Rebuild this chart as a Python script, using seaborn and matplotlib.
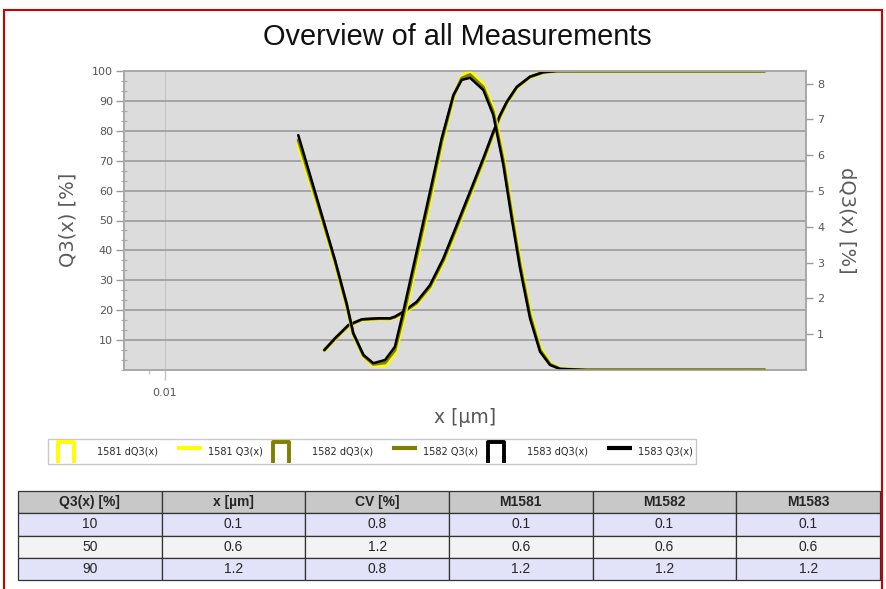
import matplotlib
matplotlib.use("Agg")
import matplotlib.pyplot as plt
import seaborn as sns
import pandas as pd
from matplotlib.path import Path
from matplotlib.lines import Line2D
from matplotlib.patches import Rectangle
from matplotlib.ticker import FixedLocator, NullFormatter, AutoMinorLocator
from matplotlib.legend_handler import HandlerLine2D

# ---------------- data ----------------
measurements = ["1581", "1582", "1583"]

# density distribution dQ3(x) [%] (right axis)
x_dq3 = [0.0608, 0.0798, 0.1, 0.117, 0.128, 0.147, 0.168, 0.197, 0.225, 0.252,
         0.302, 0.362, 0.424, 0.497, 0.556, 0.622, 0.745, 0.853, 0.977, 1.094,
         1.225, 1.403, 1.607, 1.84, 2.108, 3.0, 5.0, 10.0, 20.0, 33.8]
dq3_1581 = [6.28, 4.55, 3.00, 1.80, 1.00, 0.38, 0.13, 0.12, 0.45, 1.35,
            3.02, 4.72, 6.28, 7.62, 8.20, 8.33, 7.98, 7.30, 5.95, 4.45,
            3.05, 1.62, 0.62, 0.18, 0.03, 0.0, 0.0, 0.0, 0.0, 0.0]
dq3_1582 = [6.42, 4.60, 3.04, 1.83, 1.02, 0.40, 0.16, 0.20, 0.55, 1.49,
            3.16, 4.85, 6.38, 7.65, 8.15, 8.25, 7.90, 7.21, 5.84, 4.35,
            2.95, 1.53, 0.56, 0.16, 0.03, 0.0, 0.0, 0.0, 0.0, 0.0]
dq3_1583 = [6.56, 4.66, 3.07, 1.86, 1.03, 0.42, 0.19, 0.28, 0.65, 1.63,
            3.30, 4.98, 6.47, 7.68, 8.10, 8.16, 7.82, 7.12, 5.73, 4.24,
            2.84, 1.44, 0.51, 0.14, 0.03, 0.0, 0.0, 0.0, 0.0, 0.0]

# cumulative distribution Q3(x) [%] (left axis)
x_q3 = [0.0865, 0.1, 0.12, 0.144, 0.18, 0.211, 0.225, 0.252, 0.302, 0.362,
        0.434, 0.52, 0.622, 0.745, 0.853, 0.936, 1.024, 1.172, 1.403, 1.68,
        2.01, 3.0, 5.0, 10.0, 20.0, 33.8]
q3_1581 = [6.5, 10.3, 14.8, 16.8, 17.1, 17.1, 17.5, 19.0, 22.0, 27.3,
           36.0, 47.0, 58.2, 69.6, 78.8, 84.6, 89.2, 94.4, 98.0, 99.5,
           100, 100, 100, 100, 100, 100]
q3_1582 = [6.6, 10.45, 14.9, 16.9, 17.2, 17.2, 17.7, 19.25, 22.4, 27.85,
           36.7, 47.75, 58.9, 70.2, 79.25, 84.95, 89.45, 94.55, 98.05, 99.55,
           100, 100, 100, 100, 100, 100]
q3_1583 = [6.69, 10.6, 15.05, 16.96, 17.29, 17.29, 17.83, 19.5, 22.8, 28.4,
           37.4, 48.5, 59.6, 70.8, 79.7, 85.3, 89.7, 94.7, 98.1, 99.6,
           100, 100, 100, 100, 100, 100]

# table
table_header = ["Q3(x) [%]", "x [µm]", "CV [%]", "M1581", "M1582", "M1583"]
q3_levels = [10, 50, 90]
x_um = [0.1, 0.6, 1.2]
cv_pct = [0.8, 1.2, 0.8]
m1581 = [0.1, 0.6, 1.2]
m1582 = [0.1, 0.6, 1.2]
m1583 = [0.1, 0.6, 1.2]

# ---------------- style ----------------
colors = {"1581": "#FFFF00", "1582": "#808000", "1583": "#000000"}
widths = {"1581": 2.6, "1582": 2.2, "1583": 1.8}

sns.set_theme(style="white")
plt.rcParams['font.family'] = ['DejaVu Sans']

W, H = 886, 589
fig = plt.figure(figsize=(W / 100, H / 100), dpi=100)
fig.patch.set_facecolor("white")

L, R, T, B = 124, 806, 71, 370
ax = fig.add_axes([L / W, 1 - B / H, (R - L) / W, (B - T) / H])
ax.set_xscale("log")
ax2 = ax.twinx()

dq3_vals = {"1581": dq3_1581, "1582": dq3_1582, "1583": dq3_1583}
q3_vals = {"1581": q3_1581, "1582": q3_1582, "1583": q3_1583}

df_q3 = pd.concat([pd.DataFrame({"x": x_q3, "v": q3_vals[m], "series": m}) for m in measurements])
df_dq3 = pd.concat([pd.DataFrame({"x": x_dq3, "v": dq3_vals[m], "series": m}) for m in measurements])

for m in measurements:
    sns.lineplot(data=df_q3[df_q3.series == m], x="x", y="v", color=colors[m],
                 linewidth=widths[m], ax=ax, legend=False, estimator=None, sort=False)
for m in measurements:
    sns.lineplot(data=df_dq3[df_dq3.series == m], x="x", y="v", color=colors[m],
                 linewidth=widths[m], ax=ax2, legend=False, estimator=None, sort=False)

ax.set_facecolor("#DCDCDC")
ax2.set_facecolor("none")
ax.set_xlim(0.00574, 58.9)
ax.set_ylim(0, 100)
ax2.set_ylim(0, 8.35)

ax.set_yticks(list(range(10, 101, 10)))
ax.yaxis.set_minor_locator(AutoMinorLocator(3))
ax.set_xticks([0.01])
ax.set_xticklabels(["0.01"])
ax.xaxis.set_minor_locator(FixedLocator([0.008]))
ax.xaxis.set_minor_formatter(NullFormatter())
ax2.set_yticks(list(range(1, 9)))

ax.set_axisbelow(True)
ax.grid(axis="y", which="major", color="#9A9A9A", linewidth=1.2)
ax.grid(axis="x", which="major", color="#C4C4C4", linewidth=0.8)

for a in (ax, ax2):
    for s in a.spines.values():
        s.set_color("#A8A8A8")
        s.set_linewidth(1.2)

ax.tick_params(axis="y", which="major", direction="out", length=6, width=1,
               color="#9A9A9A", labelsize=8, labelcolor="#555555", pad=2, left=True)
ax.tick_params(axis="y", which="minor", direction="inout", length=4, width=0.8,
               color="#A8A8A8", left=True)
ax.tick_params(axis="x", which="major", direction="out", length=7, width=1,
               color="#C4C4C4", labelsize=8, labelcolor="#555555", pad=6, bottom=True)
ax.tick_params(axis="x", which="minor", direction="out", length=3, width=1,
               color="#C4C4C4", bottom=True)
ax2.tick_params(axis="y", which="major", direction="out", length=5, width=1,
                color="#9A9A9A", labelsize=8, labelcolor="#555555", pad=3, right=True)

ax.set_xlabel("x [µm]", fontsize=13.5, color="#555555")
ax.xaxis.set_label_coords(0.5, -(408 - B) / (B - T))
ax.set_ylabel("Q3(x) [%]", fontsize=14, color="#5A5A5A", va="center", ha="center",
              rotation=90, rotation_mode="anchor")
ax.yaxis.set_label_coords(-(L - 67.5) / (R - L), (B - 220) / (B - T))
ax2.set_ylabel("dQ3(x) [%]", fontsize=14, color="#5A5A5A", va="center", ha="center",
               rotation=270, rotation_mode="anchor")
ax2.yaxis.set_label_coords((847 - L) / (R - L), (B - 220) / (B - T))

fig.text(457 / W, 1 - 37 / H, "Overview of all Measurements", ha="center", va="center",
         fontsize=20.8, family=["Liberation Sans", "DejaVu Sans"], color="#111111")

# legend
fs_leg = 7
fs_px = fs_leg * 100 / 72
cap_path = Path([(-13.5, -14.5), (-13.5, 6.5), (2.5, 6.5), (2.5, -14.5)],
                [Path.MOVETO, Path.LINETO, Path.LINETO, Path.LINETO])
handles, labels = [], []
hmap = {}
for m in measurements:
    h_bar = Line2D([], [], linestyle="none", marker=cap_path, markersize=29 * 0.72,
                   markeredgewidth=2.8, markeredgecolor=colors[m], markerfacecolor="none")
    handles.append(h_bar)
    labels.append(f"{m} dQ3(x)")
    h_line = Line2D([], [], color=colors[m], linewidth=3, solid_capstyle="butt")
    handles.append(h_line)
    labels.append(f"{m} Q3(x)")
    hmap[h_line] = HandlerLine2D(xpad=15 / fs_px)
leg = fig.legend(handles, labels, loc="center", bbox_to_anchor=(372 / W, 1 - 451.5 / H),
                 ncol=6, fontsize=fs_leg, frameon=True, fancybox=False, edgecolor="#BBBBBB",
                 handlelength=40 / fs_px, handleheight=24 / fs_px, handletextpad=6 / fs_px,
                 columnspacing=3.5 / fs_px, borderpad=3.5 / fs_px, handler_map=hmap)
leg.get_frame().set_linewidth(1.0)

# table
ax_t = fig.add_axes([18 / W, 1 - 580 / H, (880 - 18) / W, (580 - 491) / H])
ax_t.axis("off")
cell_text = [[f"{q3_levels[i]}", f"{x_um[i]}", f"{cv_pct[i]}", f"{m1581[i]}",
              f"{m1582[i]}", f"{m1583[i]}"] for i in range(len(q3_levels))]
tbl = ax_t.table(cellText=cell_text, colLabels=table_header, cellLoc="center",
                 bbox=[0, 0, 1, 1])
tbl.auto_set_font_size(False)
for (r, c), cell in tbl.get_celld().items():
    cell.set_edgecolor("#333333")
    cell.set_linewidth(0.9)
    txt = cell.get_text()
    txt.set_fontsize(10)
    txt.set_fontfamily(["Liberation Sans Narrow", "Liberation Sans", "DejaVu Sans"])
    if r == 0:
        cell.set_facecolor("#C8C8C8")
        txt.set_fontweight("bold")
    elif r % 2 == 1:
        cell.set_facecolor("#E2E2F8")
    else:
        cell.set_facecolor("#F3F3F3")

# red frame around the whole report
fig.add_artist(Rectangle((4 / W, -0.05), (882 - 4) / W, (1 - 10 / H) + 0.05,
                         transform=fig.transFigure, fill=False,
                         edgecolor="#CC0000", linewidth=1.5))

fig.savefig("out.png", dpi=100)
